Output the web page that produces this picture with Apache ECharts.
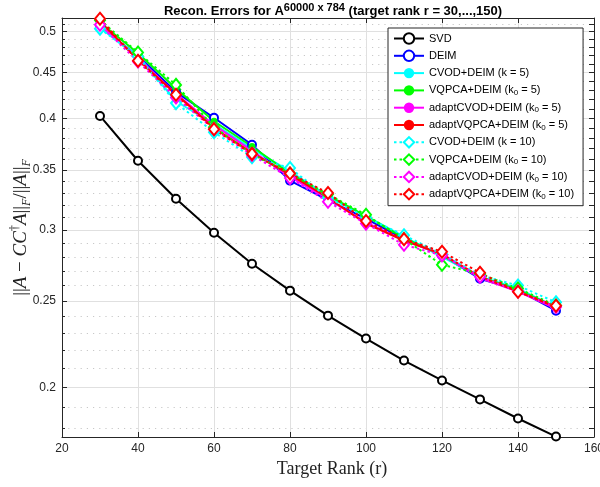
<!DOCTYPE html>
<html><head><meta charset="utf-8">
<script src="https://cdn.jsdelivr.net/npm/echarts@6/dist/echarts.min.js"></script>
<style>html,body{margin:0;padding:0;background:#fff}#c{width:600px;height:487px}</style>
</head><body><div id="c"></div>
<script>
// ---- data ----
const ranks = [30, 40, 50, 60, 70, 80, 90, 100, 110, 120, 130, 140, 150];
const svd     = [0.4025, 0.3586, 0.3251, 0.2979, 0.2750, 0.2566, 0.2406, 0.2268, 0.2143, 0.2036, 0.1939, 0.1846, 0.1762];
const deim    = [0.506, 0.470, 0.428, 0.4006, 0.3737, 0.3407, 0.324, 0.309, 0.293, 0.281, 0.2646, 0.257, 0.2437];
const cvod5   = [0.505, 0.470, 0.418, 0.394, 0.370, 0.349, 0.327, 0.311, 0.295, 0.280, 0.266, 0.258, 0.246];
const vqpca5  = [0.512, 0.473, 0.432, 0.397, 0.372, 0.347, 0.328, 0.311, 0.294, 0.281, 0.266, 0.257, 0.246];
const acvod5  = [0.508, 0.467, 0.426, 0.393, 0.368, 0.344, 0.325, 0.306, 0.292, 0.282, 0.265, 0.256, 0.245];
const avqpca5 = [0.513, 0.465, 0.426, 0.390, 0.366, 0.346, 0.326, 0.305, 0.292, 0.282, 0.266, 0.256, 0.246];
const cvod10  = [0.504, 0.469, 0.416, 0.386, 0.362, 0.352, 0.326, 0.310, 0.296, 0.282, 0.267, 0.260, 0.249];
const vqpca10 = [0.515, 0.474, 0.436, 0.391, 0.365, 0.347, 0.329, 0.312, 0.293, 0.2743, 0.268, 0.258, 0.247];
const acvod10 = [0.509, 0.463, 0.422, 0.389, 0.364, 0.343, 0.3226, 0.305, 0.2888, 0.281, 0.266, 0.256, 0.246];
const avqpca10= [0.517, 0.464, 0.425, 0.389, 0.365, 0.347, 0.330, 0.307, 0.293, 0.2837, 0.2687, 0.2559, 0.2468];

const xTicks = [20, 40, 60, 80, 100, 120, 140, 160];
const yMajorTicks = [0.2, 0.25, 0.3, 0.35, 0.4, 0.45, 0.5];
const yMinorTicks = [0.18, 0.19, 0.21, 0.22, 0.23, 0.24, 0.26, 0.27, 0.28, 0.29, 0.31, 0.32, 0.33, 0.34, 0.36, 0.37, 0.38, 0.39, 0.41, 0.42, 0.43, 0.44, 0.46, 0.47, 0.48, 0.49, 0.51];
const yAllTicks = yMajorTicks.concat(yMinorTicks);

const seriesDefs = [
  {name: 'SVD', data: svd, color: '#000000', symbol: 'emptyCircle', dotted: false},
  {name: 'DEIM', data: deim, color: '#0000ff', symbol: 'emptyCircle', dotted: false},
  {name: 'CVOD+DEIM (k = 5)', data: cvod5, color: '#00ffff', symbol: 'circle', dotted: false},
  {name: 'VQPCA+DEIM (k_0 = 5)', data: vqpca5, color: '#00ff00', symbol: 'circle', dotted: false},
  {name: 'adaptCVOD+DEIM (k_0 = 5)', data: acvod5, color: '#ff00ff', symbol: 'circle', dotted: false},
  {name: 'adaptVQPCA+DEIM (k_0 = 5)', data: avqpca5, color: '#ff0000', symbol: 'circle', dotted: false},
  {name: 'CVOD+DEIM (k = 10)', data: cvod10, color: '#00ffff', symbol: 'emptyDiamond', dotted: true},
  {name: 'VQPCA+DEIM (k_0 = 10)', data: vqpca10, color: '#00ff00', symbol: 'emptyDiamond', dotted: true},
  {name: 'adaptCVOD+DEIM (k_0 = 10)', data: acvod10, color: '#ff00ff', symbol: 'emptyDiamond', dotted: true},
  {name: 'adaptVQPCA+DEIM (k_0 = 10)', data: avqpca10, color: '#ff0000', symbol: 'emptyDiamond', dotted: true}
];

const axisColor = '#262626';
const font = "'Liberation Sans', Arial, Helvetica, sans-serif";
const serif = "'Liberation Serif', 'DejaVu Serif', serif";

const series = seriesDefs.map(d => ({
  name: d.name,
  type: 'line',
  xAxisIndex: 0,
  yAxisIndex: 0,
  data: ranks.map((r, i) => [r, d.data[i]]),
  symbol: d.symbol,
  symbolSize: d.symbol === 'emptyDiamond' ? [10, 12] : (d.symbol === 'emptyCircle' ? 8 : 7),
  showSymbol: true,
  animation: false,
  itemStyle: {color: d.color, borderWidth: 2},
  lineStyle: {color: d.color, width: 2, type: d.dotted ? [2.5, 3] : 'solid', cap: 'butt'},
  emphasis: {disabled: true}
}));

const chart = echarts.init(document.getElementById('c'), null, {renderer: 'canvas'});
chart.setOption({
  animation: false,
  backgroundColor: '#fff',
  title: {
    text: 'Recon. Errors for A{sup|60000 x 784} (target rank r = 30,...,150)',
    left: 328, top: -3, textAlign: 'center',
    textStyle: {
      fontFamily: font, fontSize: 13, fontWeight: 'bold', color: '#000', lineHeight: 19,
      rich: {sup: {fontFamily: font, fontSize: 11, fontWeight: 'bold', color: '#000', lineHeight: 10, verticalAlign: 'top'}}
    }
  },
  grid: {left: 62, right: 6, top: 18, bottom: 50, containLabel: false, outerBoundsMode: 'none'},
  legend: {
    orient: 'vertical', left: 388, top: 28,
    padding: [4, 9, 5, 5],
    itemWidth: 30, itemHeight: 13, itemGap: 4.3,
    backgroundColor: '#fff', borderColor: axisColor, borderWidth: 1,
    data: seriesDefs.map(d => d.name),
    formatter: n => n.replace('k_0', 'k{sub|0}'),
    textStyle: {
      fontFamily: font, fontSize: 11, color: '#000', lineHeight: 13,
      rich: {sub: {fontFamily: font, fontSize: 8, color: '#000', lineHeight: 6, verticalAlign: 'bottom'}}
    }
  },
  xAxis: [
    {
      type: 'value', position: 'bottom', min: 20, max: 160, interval: 20,
      name: 'Target Rank (r)', nameLocation: 'middle', nameGap: 18,
      nameTextStyle: {fontFamily: serif, fontSize: 18, color: '#222', padding: [0, 0, 0, 8]},
      axisLine: {show: true, lineStyle: {color: axisColor, width: 1}},
      axisTick: {show: true, inside: true, length: 5, lineStyle: {color: axisColor}},
      axisLabel: {show: true, margin: 6, fontFamily: font, fontSize: 12, color: axisColor},
      splitLine: {show: true, lineStyle: {color: '#e0e0e0', width: 1}}
    },
    {
      type: 'value', position: 'top', min: 20, max: 160, interval: 20,
      axisLine: {show: true, lineStyle: {color: axisColor, width: 1}},
      axisTick: {show: true, inside: true, length: 5, lineStyle: {color: axisColor}},
      axisLabel: {show: false}, splitLine: {show: false}
    }
  ],
  yAxis: [
    {
      type: 'log', position: 'left', min: 0.176, max: 0.518,
      name: '{r|||}{i|A}{r| − }{i|CC}{sup|†}{i|A}{r|||}{sub|F}{r|/||}{i|A}{r|||}{sub|F}',
      nameLocation: 'middle', nameGap: 29, nameRotate: 90, nameMoveOverlap: false,
      nameTextStyle: {
        fontFamily: serif, fontSize: 19, color: '#222', lineHeight: 24,
        rich: {
          r: {fontFamily: serif, fontSize: 19, color: '#222', lineHeight: 24},
          i: {fontFamily: serif, fontSize: 19, fontStyle: 'italic', color: '#222', lineHeight: 24},
          sup: {fontFamily: serif, fontSize: 12, color: '#222', lineHeight: 12, verticalAlign: 'top'},
          sub: {fontFamily: serif, fontSize: 12, fontStyle: 'italic', color: '#222', lineHeight: 12, verticalAlign: 'bottom'}
        }
      },
      axisLine: {show: true, lineStyle: {color: axisColor, width: 1}},
      axisTick: {show: true, inside: true, length: 5, customValues: yMajorTicks, lineStyle: {color: axisColor}},
      axisLabel: {show: true, margin: 6, customValues: yMajorTicks, fontFamily: font, fontSize: 12, color: axisColor,
        formatter: v => String(+v.toFixed(2))},
      splitLine: {show: true, lineStyle: {color: '#e0e0e0', width: 1}},
      minorTick: {show: false}, minorSplitLine: {show: false}
    },
    {
      type: 'log', position: 'left', min: 0.176, max: 0.518,
      axisLine: {show: false},
      axisTick: {show: true, inside: true, length: 3, customValues: yMinorTicks, lineStyle: {color: axisColor}},
      axisLabel: {show: false},
      splitLine: {show: true, lineStyle: {color: '#c8c8c8', width: 1, type: [1.2, 5]}}
    },
    {
      type: 'log', position: 'right', min: 0.176, max: 0.518,
      axisLine: {show: true, lineStyle: {color: axisColor, width: 1}},
      axisTick: {show: true, inside: true, length: 5, customValues: yAllTicks, lineStyle: {color: axisColor}},
      axisLabel: {show: false}, splitLine: {show: false}
    }
  ],
  series: series
});
</script>
</body></html>
